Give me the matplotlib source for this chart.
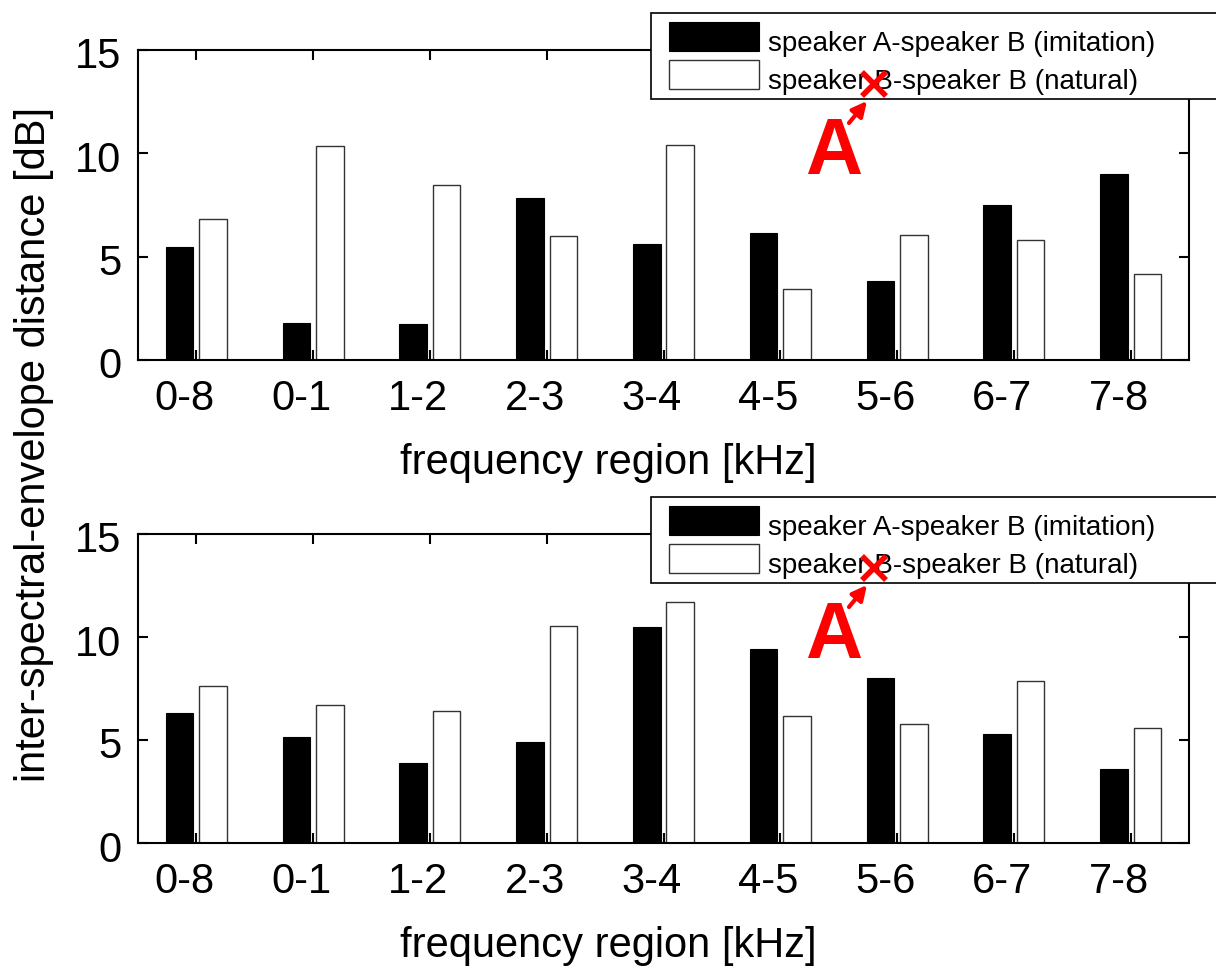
import matplotlib.pyplot as plt
import matplotlib.transforms as mtransforms
from matplotlib.patches import Rectangle, FancyArrowPatch
from matplotlib.lines import Line2D
import numpy as np

plt.rcParams['font.family'] = ['Liberation Sans', 'DejaVu Sans']

# values
regions = ["0-8", "0-1", "1-2", "2-3", "3-4", "4-5", "5-6", "6-7", "7-8"]
imitation_top = [5.48, 1.79, 1.74, 7.85, 5.61, 6.15, 3.82, 7.50, 9.00]
natural_top = [6.82, 10.35, 8.45, 6.00, 10.39, 3.42, 6.03, 5.81, 4.16]
imitation_bottom = [6.29, 5.13, 3.88, 4.90, 10.47, 9.43, 7.99, 5.28, 3.59]
natural_bottom = [7.62, 6.68, 6.41, 10.55, 11.72, 6.17, 5.76, 7.88, 5.58]
yticks = [0, 5, 10, 15]
labels = ["speaker A-speaker B (imitation)", "speaker B-speaker B (natural)"]

W, H = 1216, 966
fig = plt.figure(figsize=(W / 100, H / 100), dpi=100)


def fx(x):
    return x / W


def fy(y):
    # pixel row from the top -> figure fraction
    return 1 - y / H


left, right = 138, 1189
panels = [(50, 360, imitation_top, natural_top),
          (534, 843, imitation_bottom, natural_bottom)]

x = np.arange(1, len(regions) + 1)
width = 0.236
shift_x = mtransforms.ScaledTranslation(-12 / 100, 0, fig.dpi_scale_trans)
shift_y = mtransforms.ScaledTranslation(0, -3 / 100, fig.dpi_scale_trans)
shift_leg = mtransforms.ScaledTranslation(0, -5 / 100, fig.dpi_scale_trans)

for top, bottom, imit, nat in panels:
    ax = fig.add_axes([fx(left), fy(bottom), (right - left) / W, (bottom - top) / H])
    b1 = ax.bar(x - 0.143, imit, width, color='black', edgecolor='black', linewidth=0.8)
    b2 = ax.bar(x + 0.143, nat, width, color='white', edgecolor='#333333', linewidth=1.0)
    ax.set_xlim(0.5, 9.5)
    ax.set_ylim(0, 15)
    ax.set_xticks(x)
    ax.set_xticklabels(regions)
    ax.set_yticks(yticks)
    ax.tick_params(direction='in', length=7, width=1.5, top=True, right=True, labelsize=30)
    ax.tick_params(axis='x', pad=14)
    ax.tick_params(axis='y', pad=12)
    for s in ax.spines.values():
        s.set_linewidth(1.5)
    for lab in ax.get_xticklabels():
        lab.set_transform(lab.get_transform() + shift_x)
    for lab in ax.get_yticklabels():
        lab.set_transform(lab.get_transform() + shift_y)

    ax.set_xlabel('frequency region [kHz]', fontsize=30, va='center')
    ax.xaxis.set_label_coords((608 - left) / (right - left), -103 / (bottom - top))

    # legend box (runs past the right edge of the figure)
    dy = top - 50
    fig.add_artist(Rectangle((fx(651), fy(99 + dy)), fx(1240) - fx(651), (99 - 13) / H,
                             transform=fig.transFigure, facecolor='white',
                             edgecolor='black', linewidth=1.2, zorder=5))
    leg = fig.legend([b1, b2], labels, loc='upper left',
                     bbox_to_anchor=(fx(669), fy(22 + dy)), bbox_transform=fig.transFigure,
                     frameon=False, borderpad=0, borderaxespad=0, fontsize=20,
                     handlelength=3.24, handleheight=1.23, handletextpad=0.32,
                     labelspacing=0.3)
    leg.set_zorder(6)
    for t in leg.get_texts():
        t.set_transform(t.get_transform() + shift_leg)

    # red mark and arrow
    fig.add_artist(Line2D([fx(874)], [fy(84 + dy)], marker='x', markersize=17,
                          markeredgewidth=4, color='red', transform=fig.transFigure, zorder=10))
    fig.add_artist(FancyArrowPatch((fx(849), fy(123 + dy)), (fx(867), fy(101 + dy)),
                                   transform=fig.transFigure, arrowstyle='-|>',
                                   mutation_scale=22, color='red', linewidth=3,
                                   shrinkA=0, shrinkB=0, zorder=10))
    fig.text(fx(834), fy(174 + dy), 'A', ha='center', va='baseline', fontsize=57,
             fontweight='bold', color='red', zorder=10)

fig.supylabel('inter-spectral-envelope distance [dB]', x=fx(34), y=fy(444),
              ha='center', va='center', fontsize=30)

fig.savefig('out.png', dpi=100)
